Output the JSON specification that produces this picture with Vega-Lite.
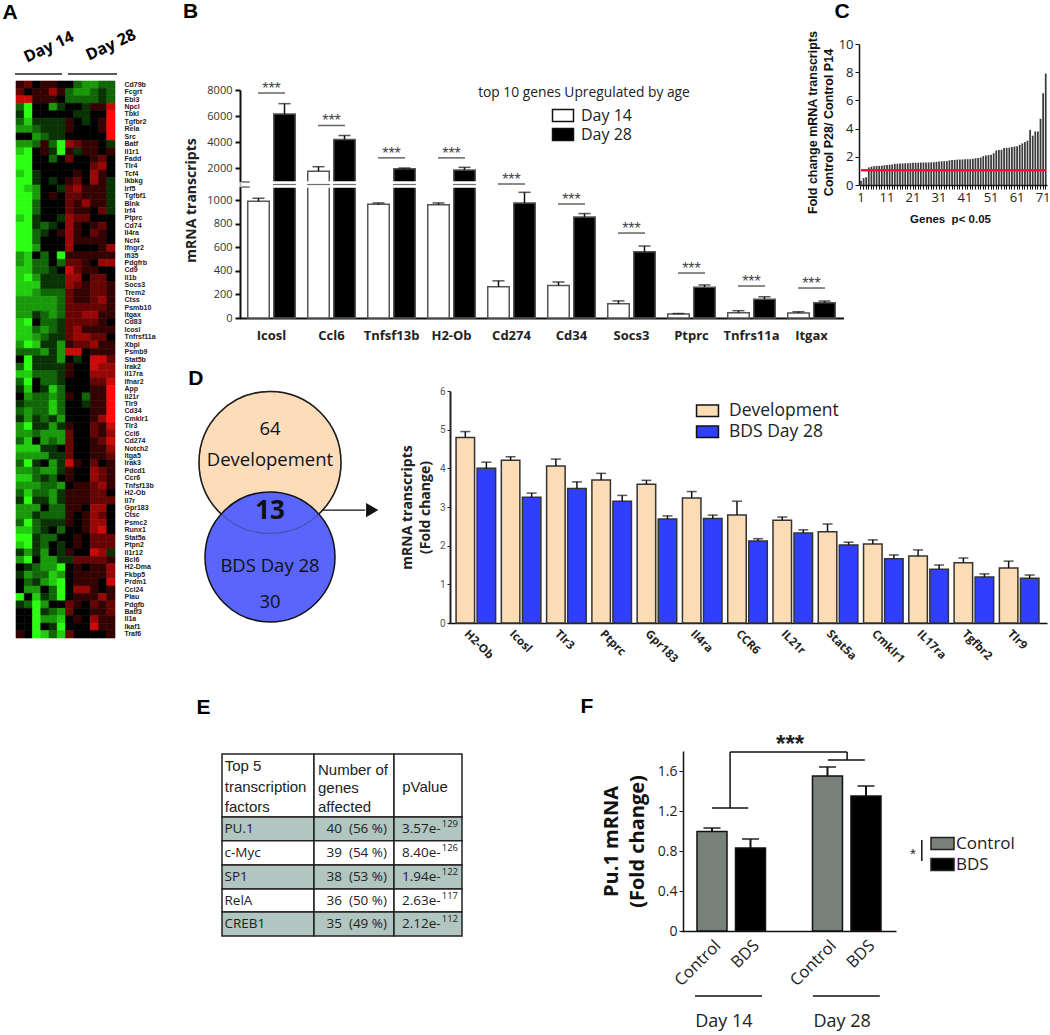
{"$schema":"https://vega.github.io/schema/vega-lite/v6.json","width":1050,"height":1035,"padding":0,"autosize":{"type":"none"},"background":"white","config":{"view":{"stroke":null},"axis":{"grid":false},"font":"Open Sans","text":{"font":"Open Sans"}},
"datasets":{
"heat":[
{"g":"Cd79b","c":1,"v":1},{"g":"Cd79b","c":2,"v":2},{"g":"Cd79b","c":3,"v":0},{"g":"Cd79b","c":4,"v":1},{"g":"Cd79b","c":5,"v":1},{"g":"Cd79b","c":6,"v":0},{"g":"Cd79b","c":7,"v":0},{"g":"Cd79b","c":8,"v":-2},{"g":"Cd79b","c":9,"v":-3},{"g":"Cd79b","c":10,"v":-3},{"g":"Cd79b","c":11,"v":-2},{"g":"Cd79b","c":12,"v":-2},
{"g":"Fcgrt","c":1,"v":2},{"g":"Fcgrt","c":2,"v":0},{"g":"Fcgrt","c":3,"v":1},{"g":"Fcgrt","c":4,"v":1},{"g":"Fcgrt","c":5,"v":3},{"g":"Fcgrt","c":6,"v":1},{"g":"Fcgrt","c":7,"v":-2},{"g":"Fcgrt","c":8,"v":-3},{"g":"Fcgrt","c":9,"v":-3},{"g":"Fcgrt","c":10,"v":-2},{"g":"Fcgrt","c":11,"v":-1},{"g":"Fcgrt","c":12,"v":-2},
{"g":"Ebi3","c":1,"v":4},{"g":"Ebi3","c":2,"v":4},{"g":"Ebi3","c":3,"v":1},{"g":"Ebi3","c":4,"v":1},{"g":"Ebi3","c":5,"v":1},{"g":"Ebi3","c":6,"v":0},{"g":"Ebi3","c":7,"v":-2},{"g":"Ebi3","c":8,"v":-2},{"g":"Ebi3","c":9,"v":-2},{"g":"Ebi3","c":10,"v":-2},{"g":"Ebi3","c":11,"v":-1},{"g":"Ebi3","c":12,"v":-2},
{"g":"Npcl","c":1,"v":-2},{"g":"Npcl","c":2,"v":-5},{"g":"Npcl","c":3,"v":0},{"g":"Npcl","c":4,"v":0},{"g":"Npcl","c":5,"v":-3},{"g":"Npcl","c":6,"v":-1},{"g":"Npcl","c":7,"v":0},{"g":"Npcl","c":8,"v":0},{"g":"Npcl","c":9,"v":-1},{"g":"Npcl","c":10,"v":1},{"g":"Npcl","c":11,"v":1},{"g":"Npcl","c":12,"v":4},
{"g":"Tbkl","c":1,"v":-1},{"g":"Tbkl","c":2,"v":-5},{"g":"Tbkl","c":3,"v":0},{"g":"Tbkl","c":4,"v":0},{"g":"Tbkl","c":5,"v":0},{"g":"Tbkl","c":6,"v":0},{"g":"Tbkl","c":7,"v":0},{"g":"Tbkl","c":8,"v":-1},{"g":"Tbkl","c":9,"v":-1},{"g":"Tbkl","c":10,"v":0},{"g":"Tbkl","c":11,"v":0},{"g":"Tbkl","c":12,"v":5},
{"g":"Tgfbr2","c":1,"v":-2},{"g":"Tgfbr2","c":2,"v":-4},{"g":"Tgfbr2","c":3,"v":-1},{"g":"Tgfbr2","c":4,"v":-1},{"g":"Tgfbr2","c":5,"v":-1},{"g":"Tgfbr2","c":6,"v":-1},{"g":"Tgfbr2","c":7,"v":1},{"g":"Tgfbr2","c":8,"v":0},{"g":"Tgfbr2","c":9,"v":-1},{"g":"Tgfbr2","c":10,"v":0},{"g":"Tgfbr2","c":11,"v":1},{"g":"Tgfbr2","c":12,"v":5},
{"g":"Rela","c":1,"v":-3},{"g":"Rela","c":2,"v":-3},{"g":"Rela","c":3,"v":-2},{"g":"Rela","c":4,"v":-1},{"g":"Rela","c":5,"v":-1},{"g":"Rela","c":6,"v":-1},{"g":"Rela","c":7,"v":1},{"g":"Rela","c":8,"v":0},{"g":"Rela","c":9,"v":0},{"g":"Rela","c":10,"v":0},{"g":"Rela","c":11,"v":1},{"g":"Rela","c":12,"v":5},
{"g":"Src","c":1,"v":0},{"g":"Src","c":2,"v":0},{"g":"Src","c":3,"v":-3},{"g":"Src","c":4,"v":-2},{"g":"Src","c":5,"v":-1},{"g":"Src","c":6,"v":-1},{"g":"Src","c":7,"v":0},{"g":"Src","c":8,"v":0},{"g":"Src","c":9,"v":0},{"g":"Src","c":10,"v":0},{"g":"Src","c":11,"v":0},{"g":"Src","c":12,"v":5},
{"g":"Batf","c":1,"v":-3},{"g":"Batf","c":2,"v":-3},{"g":"Batf","c":3,"v":-2},{"g":"Batf","c":4,"v":1},{"g":"Batf","c":5,"v":-2},{"g":"Batf","c":6,"v":-5},{"g":"Batf","c":7,"v":3},{"g":"Batf","c":8,"v":2},{"g":"Batf","c":9,"v":1},{"g":"Batf","c":10,"v":1},{"g":"Batf","c":11,"v":0},{"g":"Batf","c":12,"v":-1},
{"g":"Il1r1","c":1,"v":-4},{"g":"Il1r1","c":2,"v":-5},{"g":"Il1r1","c":3,"v":0},{"g":"Il1r1","c":4,"v":1},{"g":"Il1r1","c":5,"v":-1},{"g":"Il1r1","c":6,"v":-5},{"g":"Il1r1","c":7,"v":1},{"g":"Il1r1","c":8,"v":-1},{"g":"Il1r1","c":9,"v":1},{"g":"Il1r1","c":10,"v":1},{"g":"Il1r1","c":11,"v":0},{"g":"Il1r1","c":12,"v":1},
{"g":"Fadd","c":1,"v":-5},{"g":"Fadd","c":2,"v":-5},{"g":"Fadd","c":3,"v":0},{"g":"Fadd","c":4,"v":0},{"g":"Fadd","c":5,"v":-2},{"g":"Fadd","c":6,"v":0},{"g":"Fadd","c":7,"v":2},{"g":"Fadd","c":8,"v":0},{"g":"Fadd","c":9,"v":0},{"g":"Fadd","c":10,"v":1},{"g":"Fadd","c":11,"v":2},{"g":"Fadd","c":12,"v":0},
{"g":"Tlr4","c":1,"v":-5},{"g":"Tlr4","c":2,"v":-5},{"g":"Tlr4","c":3,"v":0},{"g":"Tlr4","c":4,"v":0},{"g":"Tlr4","c":5,"v":0},{"g":"Tlr4","c":6,"v":0},{"g":"Tlr4","c":7,"v":0},{"g":"Tlr4","c":8,"v":0},{"g":"Tlr4","c":9,"v":0},{"g":"Tlr4","c":10,"v":2},{"g":"Tlr4","c":11,"v":3},{"g":"Tlr4","c":12,"v":0},
{"g":"Tcf4","c":1,"v":-4},{"g":"Tcf4","c":2,"v":-5},{"g":"Tcf4","c":3,"v":-1},{"g":"Tcf4","c":4,"v":0},{"g":"Tcf4","c":5,"v":0},{"g":"Tcf4","c":6,"v":0},{"g":"Tcf4","c":7,"v":0},{"g":"Tcf4","c":8,"v":1},{"g":"Tcf4","c":9,"v":0},{"g":"Tcf4","c":10,"v":3},{"g":"Tcf4","c":11,"v":1},{"g":"Tcf4","c":12,"v":0},
{"g":"Ikbkg","c":1,"v":-5},{"g":"Ikbkg","c":2,"v":-5},{"g":"Ikbkg","c":3,"v":-1},{"g":"Ikbkg","c":4,"v":0},{"g":"Ikbkg","c":5,"v":-1},{"g":"Ikbkg","c":6,"v":0},{"g":"Ikbkg","c":7,"v":1},{"g":"Ikbkg","c":8,"v":2},{"g":"Ikbkg","c":9,"v":0},{"g":"Ikbkg","c":10,"v":3},{"g":"Ikbkg","c":11,"v":1},{"g":"Ikbkg","c":12,"v":-1},
{"g":"Irf5","c":1,"v":-5},{"g":"Irf5","c":2,"v":-4},{"g":"Irf5","c":3,"v":-3},{"g":"Irf5","c":4,"v":0},{"g":"Irf5","c":5,"v":0},{"g":"Irf5","c":6,"v":-1},{"g":"Irf5","c":7,"v":2},{"g":"Irf5","c":8,"v":3},{"g":"Irf5","c":9,"v":1},{"g":"Irf5","c":10,"v":1},{"g":"Irf5","c":11,"v":1},{"g":"Irf5","c":12,"v":-1},
{"g":"Tgfbf1","c":1,"v":-5},{"g":"Tgfbf1","c":2,"v":-5},{"g":"Tgfbf1","c":3,"v":-3},{"g":"Tgfbf1","c":4,"v":0},{"g":"Tgfbf1","c":5,"v":1},{"g":"Tgfbf1","c":6,"v":0},{"g":"Tgfbf1","c":7,"v":2},{"g":"Tgfbf1","c":8,"v":2},{"g":"Tgfbf1","c":9,"v":1},{"g":"Tgfbf1","c":10,"v":1},{"g":"Tgfbf1","c":11,"v":1},{"g":"Tgfbf1","c":12,"v":-1},
{"g":"Blnk","c":1,"v":-5},{"g":"Blnk","c":2,"v":-5},{"g":"Blnk","c":3,"v":-2},{"g":"Blnk","c":4,"v":0},{"g":"Blnk","c":5,"v":0},{"g":"Blnk","c":6,"v":0},{"g":"Blnk","c":7,"v":2},{"g":"Blnk","c":8,"v":1},{"g":"Blnk","c":9,"v":3},{"g":"Blnk","c":10,"v":1},{"g":"Blnk","c":11,"v":1},{"g":"Blnk","c":12,"v":-1},
{"g":"Irf4","c":1,"v":-5},{"g":"Irf4","c":2,"v":-5},{"g":"Irf4","c":3,"v":-2},{"g":"Irf4","c":4,"v":0},{"g":"Irf4","c":5,"v":0},{"g":"Irf4","c":6,"v":0},{"g":"Irf4","c":7,"v":2},{"g":"Irf4","c":8,"v":1},{"g":"Irf4","c":9,"v":1},{"g":"Irf4","c":10,"v":0},{"g":"Irf4","c":11,"v":2},{"g":"Irf4","c":12,"v":-1},
{"g":"Ptprc","c":1,"v":-4},{"g":"Ptprc","c":2,"v":-5},{"g":"Ptprc","c":3,"v":-1},{"g":"Ptprc","c":4,"v":0},{"g":"Ptprc","c":5,"v":0},{"g":"Ptprc","c":6,"v":-1},{"g":"Ptprc","c":7,"v":3},{"g":"Ptprc","c":8,"v":2},{"g":"Ptprc","c":9,"v":2},{"g":"Ptprc","c":10,"v":0},{"g":"Ptprc","c":11,"v":0},{"g":"Ptprc","c":12,"v":0},
{"g":"Cd74","c":1,"v":-5},{"g":"Cd74","c":2,"v":-5},{"g":"Cd74","c":3,"v":-1},{"g":"Cd74","c":4,"v":-2},{"g":"Cd74","c":5,"v":-1},{"g":"Cd74","c":6,"v":0},{"g":"Cd74","c":7,"v":3},{"g":"Cd74","c":8,"v":1},{"g":"Cd74","c":9,"v":0},{"g":"Cd74","c":10,"v":1},{"g":"Cd74","c":11,"v":2},{"g":"Cd74","c":12,"v":0},
{"g":"Il4ra","c":1,"v":-5},{"g":"Il4ra","c":2,"v":-5},{"g":"Il4ra","c":3,"v":-2},{"g":"Il4ra","c":4,"v":-1},{"g":"Il4ra","c":5,"v":0},{"g":"Il4ra","c":6,"v":1},{"g":"Il4ra","c":7,"v":3},{"g":"Il4ra","c":8,"v":1},{"g":"Il4ra","c":9,"v":0},{"g":"Il4ra","c":10,"v":2},{"g":"Il4ra","c":11,"v":1},{"g":"Il4ra","c":12,"v":0},
{"g":"Ncf4","c":1,"v":-5},{"g":"Ncf4","c":2,"v":-5},{"g":"Ncf4","c":3,"v":-2},{"g":"Ncf4","c":4,"v":0},{"g":"Ncf4","c":5,"v":0},{"g":"Ncf4","c":6,"v":0},{"g":"Ncf4","c":7,"v":3},{"g":"Ncf4","c":8,"v":1},{"g":"Ncf4","c":9,"v":1},{"g":"Ncf4","c":10,"v":1},{"g":"Ncf4","c":11,"v":1},{"g":"Ncf4","c":12,"v":0},
{"g":"Ifngr2","c":1,"v":-5},{"g":"Ifngr2","c":2,"v":-5},{"g":"Ifngr2","c":3,"v":-3},{"g":"Ifngr2","c":4,"v":0},{"g":"Ifngr2","c":5,"v":0},{"g":"Ifngr2","c":6,"v":0},{"g":"Ifngr2","c":7,"v":3},{"g":"Ifngr2","c":8,"v":0},{"g":"Ifngr2","c":9,"v":0},{"g":"Ifngr2","c":10,"v":0},{"g":"Ifngr2","c":11,"v":1},{"g":"Ifngr2","c":12,"v":3},
{"g":"Ifi35","c":1,"v":-3},{"g":"Ifi35","c":2,"v":-4},{"g":"Ifi35","c":3,"v":0},{"g":"Ifi35","c":4,"v":-2},{"g":"Ifi35","c":5,"v":0},{"g":"Ifi35","c":6,"v":-5},{"g":"Ifi35","c":7,"v":1},{"g":"Ifi35","c":8,"v":1},{"g":"Ifi35","c":9,"v":1},{"g":"Ifi35","c":10,"v":1},{"g":"Ifi35","c":11,"v":1},{"g":"Ifi35","c":12,"v":1},
{"g":"Pdgfrb","c":1,"v":-3},{"g":"Pdgfrb","c":2,"v":-4},{"g":"Pdgfrb","c":3,"v":-2},{"g":"Pdgfrb","c":4,"v":-2},{"g":"Pdgfrb","c":5,"v":0},{"g":"Pdgfrb","c":6,"v":-2},{"g":"Pdgfrb","c":7,"v":2},{"g":"Pdgfrb","c":8,"v":2},{"g":"Pdgfrb","c":9,"v":1},{"g":"Pdgfrb","c":10,"v":0},{"g":"Pdgfrb","c":11,"v":3},{"g":"Pdgfrb","c":12,"v":3},
{"g":"Cd9","c":1,"v":-4},{"g":"Cd9","c":2,"v":-4},{"g":"Cd9","c":3,"v":-2},{"g":"Cd9","c":4,"v":-2},{"g":"Cd9","c":5,"v":-1},{"g":"Cd9","c":6,"v":0},{"g":"Cd9","c":7,"v":4},{"g":"Cd9","c":8,"v":2},{"g":"Cd9","c":9,"v":1},{"g":"Cd9","c":10,"v":1},{"g":"Cd9","c":11,"v":0},{"g":"Cd9","c":12,"v":0},
{"g":"Il1b","c":1,"v":-4},{"g":"Il1b","c":2,"v":-5},{"g":"Il1b","c":3,"v":-3},{"g":"Il1b","c":4,"v":-1},{"g":"Il1b","c":5,"v":-1},{"g":"Il1b","c":6,"v":-1},{"g":"Il1b","c":7,"v":3},{"g":"Il1b","c":8,"v":3},{"g":"Il1b","c":9,"v":0},{"g":"Il1b","c":10,"v":2},{"g":"Il1b","c":11,"v":2},{"g":"Il1b","c":12,"v":0},
{"g":"Socs3","c":1,"v":-4},{"g":"Socs3","c":2,"v":-4},{"g":"Socs3","c":3,"v":-4},{"g":"Socs3","c":4,"v":-1},{"g":"Socs3","c":5,"v":-1},{"g":"Socs3","c":6,"v":-1},{"g":"Socs3","c":7,"v":3},{"g":"Socs3","c":8,"v":2},{"g":"Socs3","c":9,"v":1},{"g":"Socs3","c":10,"v":2},{"g":"Socs3","c":11,"v":2},{"g":"Socs3","c":12,"v":1},
{"g":"Trem2","c":1,"v":-4},{"g":"Trem2","c":2,"v":-4},{"g":"Trem2","c":3,"v":-3},{"g":"Trem2","c":4,"v":-2},{"g":"Trem2","c":5,"v":-2},{"g":"Trem2","c":6,"v":-2},{"g":"Trem2","c":7,"v":2},{"g":"Trem2","c":8,"v":1},{"g":"Trem2","c":9,"v":1},{"g":"Trem2","c":10,"v":2},{"g":"Trem2","c":11,"v":2},{"g":"Trem2","c":12,"v":1},
{"g":"Ctss","c":1,"v":-3},{"g":"Ctss","c":2,"v":-3},{"g":"Ctss","c":3,"v":-3},{"g":"Ctss","c":4,"v":-3},{"g":"Ctss","c":5,"v":-3},{"g":"Ctss","c":6,"v":-2},{"g":"Ctss","c":7,"v":2},{"g":"Ctss","c":8,"v":1},{"g":"Ctss","c":9,"v":1},{"g":"Ctss","c":10,"v":2},{"g":"Ctss","c":11,"v":3},{"g":"Ctss","c":12,"v":1},
{"g":"Psmb10","c":1,"v":-3},{"g":"Psmb10","c":2,"v":-3},{"g":"Psmb10","c":3,"v":-3},{"g":"Psmb10","c":4,"v":-3},{"g":"Psmb10","c":5,"v":-3},{"g":"Psmb10","c":6,"v":-2},{"g":"Psmb10","c":7,"v":2},{"g":"Psmb10","c":8,"v":2},{"g":"Psmb10","c":9,"v":2},{"g":"Psmb10","c":10,"v":2},{"g":"Psmb10","c":11,"v":2},{"g":"Psmb10","c":12,"v":1},
{"g":"Itgax","c":1,"v":-3},{"g":"Itgax","c":2,"v":-3},{"g":"Itgax","c":3,"v":-1},{"g":"Itgax","c":4,"v":-2},{"g":"Itgax","c":5,"v":-3},{"g":"Itgax","c":6,"v":-2},{"g":"Itgax","c":7,"v":2},{"g":"Itgax","c":8,"v":2},{"g":"Itgax","c":9,"v":3},{"g":"Itgax","c":10,"v":3},{"g":"Itgax","c":11,"v":1},{"g":"Itgax","c":12,"v":1},
{"g":"Cd83","c":1,"v":-4},{"g":"Cd83","c":2,"v":-5},{"g":"Cd83","c":3,"v":0},{"g":"Cd83","c":4,"v":-2},{"g":"Cd83","c":5,"v":-2},{"g":"Cd83","c":6,"v":-1},{"g":"Cd83","c":7,"v":2},{"g":"Cd83","c":8,"v":2},{"g":"Cd83","c":9,"v":2},{"g":"Cd83","c":10,"v":2},{"g":"Cd83","c":11,"v":1},{"g":"Cd83","c":12,"v":0},
{"g":"Icosl","c":1,"v":-4},{"g":"Icosl","c":2,"v":-4},{"g":"Icosl","c":3,"v":-2},{"g":"Icosl","c":4,"v":-3},{"g":"Icosl","c":5,"v":-2},{"g":"Icosl","c":6,"v":-1},{"g":"Icosl","c":7,"v":2},{"g":"Icosl","c":8,"v":3},{"g":"Icosl","c":9,"v":1},{"g":"Icosl","c":10,"v":1},{"g":"Icosl","c":11,"v":1},{"g":"Icosl","c":12,"v":1},
{"g":"Tnfrsf11a","c":1,"v":-4},{"g":"Tnfrsf11a","c":2,"v":-4},{"g":"Tnfrsf11a","c":3,"v":-3},{"g":"Tnfrsf11a","c":4,"v":-2},{"g":"Tnfrsf11a","c":5,"v":-1},{"g":"Tnfrsf11a","c":6,"v":-1},{"g":"Tnfrsf11a","c":7,"v":2},{"g":"Tnfrsf11a","c":8,"v":3},{"g":"Tnfrsf11a","c":9,"v":3},{"g":"Tnfrsf11a","c":10,"v":2},{"g":"Tnfrsf11a","c":11,"v":2},{"g":"Tnfrsf11a","c":12,"v":0},
{"g":"Xbpl","c":1,"v":-3},{"g":"Xbpl","c":2,"v":-5},{"g":"Xbpl","c":3,"v":-4},{"g":"Xbpl","c":4,"v":-1},{"g":"Xbpl","c":5,"v":-1},{"g":"Xbpl","c":6,"v":-3},{"g":"Xbpl","c":7,"v":1},{"g":"Xbpl","c":8,"v":2},{"g":"Xbpl","c":9,"v":2},{"g":"Xbpl","c":10,"v":3},{"g":"Xbpl","c":11,"v":1},{"g":"Xbpl","c":12,"v":1},
{"g":"Psmb9","c":1,"v":-2},{"g":"Psmb9","c":2,"v":-2},{"g":"Psmb9","c":3,"v":-2},{"g":"Psmb9","c":4,"v":-3},{"g":"Psmb9","c":5,"v":-1},{"g":"Psmb9","c":6,"v":-3},{"g":"Psmb9","c":7,"v":4},{"g":"Psmb9","c":8,"v":4},{"g":"Psmb9","c":9,"v":0},{"g":"Psmb9","c":10,"v":1},{"g":"Psmb9","c":11,"v":1},{"g":"Psmb9","c":12,"v":1},
{"g":"Stat5b","c":1,"v":0},{"g":"Stat5b","c":2,"v":-5},{"g":"Stat5b","c":3,"v":-1},{"g":"Stat5b","c":4,"v":-1},{"g":"Stat5b","c":5,"v":-1},{"g":"Stat5b","c":6,"v":-3},{"g":"Stat5b","c":7,"v":0},{"g":"Stat5b","c":8,"v":-1},{"g":"Stat5b","c":9,"v":0},{"g":"Stat5b","c":10,"v":4},{"g":"Stat5b","c":11,"v":4},{"g":"Stat5b","c":12,"v":2},
{"g":"Irak2","c":1,"v":-2},{"g":"Irak2","c":2,"v":-5},{"g":"Irak2","c":3,"v":-1},{"g":"Irak2","c":4,"v":-1},{"g":"Irak2","c":5,"v":-1},{"g":"Irak2","c":6,"v":-1},{"g":"Irak2","c":7,"v":1},{"g":"Irak2","c":8,"v":0},{"g":"Irak2","c":9,"v":0},{"g":"Irak2","c":10,"v":4},{"g":"Irak2","c":11,"v":3},{"g":"Irak2","c":12,"v":3},
{"g":"Il17ra","c":1,"v":-4},{"g":"Il17ra","c":2,"v":-4},{"g":"Il17ra","c":3,"v":-2},{"g":"Il17ra","c":4,"v":-2},{"g":"Il17ra","c":5,"v":-2},{"g":"Il17ra","c":6,"v":-1},{"g":"Il17ra","c":7,"v":1},{"g":"Il17ra","c":8,"v":0},{"g":"Il17ra","c":9,"v":0},{"g":"Il17ra","c":10,"v":3},{"g":"Il17ra","c":11,"v":3},{"g":"Il17ra","c":12,"v":3},
{"g":"Ifnar2","c":1,"v":-2},{"g":"Ifnar2","c":2,"v":-5},{"g":"Ifnar2","c":3,"v":0},{"g":"Ifnar2","c":4,"v":-2},{"g":"Ifnar2","c":5,"v":-2},{"g":"Ifnar2","c":6,"v":-1},{"g":"Ifnar2","c":7,"v":0},{"g":"Ifnar2","c":8,"v":0},{"g":"Ifnar2","c":9,"v":0},{"g":"Ifnar2","c":10,"v":2},{"g":"Ifnar2","c":11,"v":2},{"g":"Ifnar2","c":12,"v":4},
{"g":"App","c":1,"v":-1},{"g":"App","c":2,"v":-4},{"g":"App","c":3,"v":0},{"g":"App","c":4,"v":-1},{"g":"App","c":5,"v":-4},{"g":"App","c":6,"v":-2},{"g":"App","c":7,"v":0},{"g":"App","c":8,"v":0},{"g":"App","c":9,"v":0},{"g":"App","c":10,"v":1},{"g":"App","c":11,"v":1},{"g":"App","c":12,"v":5},
{"g":"Il21r","c":1,"v":0},{"g":"Il21r","c":2,"v":-3},{"g":"Il21r","c":3,"v":-2},{"g":"Il21r","c":4,"v":-2},{"g":"Il21r","c":5,"v":-3},{"g":"Il21r","c":6,"v":-2},{"g":"Il21r","c":7,"v":1},{"g":"Il21r","c":8,"v":0},{"g":"Il21r","c":9,"v":-2},{"g":"Il21r","c":10,"v":1},{"g":"Il21r","c":11,"v":1},{"g":"Il21r","c":12,"v":5},
{"g":"Tlr9","c":1,"v":-1},{"g":"Tlr9","c":2,"v":-2},{"g":"Tlr9","c":3,"v":-2},{"g":"Tlr9","c":4,"v":-2},{"g":"Tlr9","c":5,"v":-4},{"g":"Tlr9","c":6,"v":-2},{"g":"Tlr9","c":7,"v":0},{"g":"Tlr9","c":8,"v":0},{"g":"Tlr9","c":9,"v":-1},{"g":"Tlr9","c":10,"v":1},{"g":"Tlr9","c":11,"v":1},{"g":"Tlr9","c":12,"v":5},
{"g":"Cd34","c":1,"v":-2},{"g":"Cd34","c":2,"v":-3},{"g":"Cd34","c":3,"v":-2},{"g":"Cd34","c":4,"v":-2},{"g":"Cd34","c":5,"v":-4},{"g":"Cd34","c":6,"v":-2},{"g":"Cd34","c":7,"v":0},{"g":"Cd34","c":8,"v":0},{"g":"Cd34","c":9,"v":0},{"g":"Cd34","c":10,"v":1},{"g":"Cd34","c":11,"v":1},{"g":"Cd34","c":12,"v":5},
{"g":"Cmklr1","c":1,"v":-1},{"g":"Cmklr1","c":2,"v":-3},{"g":"Cmklr1","c":3,"v":-1},{"g":"Cmklr1","c":4,"v":-2},{"g":"Cmklr1","c":5,"v":-1},{"g":"Cmklr1","c":6,"v":-3},{"g":"Cmklr1","c":7,"v":0},{"g":"Cmklr1","c":8,"v":0},{"g":"Cmklr1","c":9,"v":0},{"g":"Cmklr1","c":10,"v":1},{"g":"Cmklr1","c":11,"v":3},{"g":"Cmklr1","c":12,"v":5},
{"g":"Tlr3","c":1,"v":-3},{"g":"Tlr3","c":2,"v":-5},{"g":"Tlr3","c":3,"v":-1},{"g":"Tlr3","c":4,"v":-1},{"g":"Tlr3","c":5,"v":-3},{"g":"Tlr3","c":6,"v":-1},{"g":"Tlr3","c":7,"v":1},{"g":"Tlr3","c":8,"v":0},{"g":"Tlr3","c":9,"v":0},{"g":"Tlr3","c":10,"v":2},{"g":"Tlr3","c":11,"v":1},{"g":"Tlr3","c":12,"v":4},
{"g":"Ccl6","c":1,"v":-3},{"g":"Ccl6","c":2,"v":-3},{"g":"Ccl6","c":3,"v":-2},{"g":"Ccl6","c":4,"v":-3},{"g":"Ccl6","c":5,"v":-3},{"g":"Ccl6","c":6,"v":-3},{"g":"Ccl6","c":7,"v":2},{"g":"Ccl6","c":8,"v":0},{"g":"Ccl6","c":9,"v":0},{"g":"Ccl6","c":10,"v":2},{"g":"Ccl6","c":11,"v":1},{"g":"Ccl6","c":12,"v":3},
{"g":"Cd274","c":1,"v":-2},{"g":"Cd274","c":2,"v":-4},{"g":"Cd274","c":3,"v":0},{"g":"Cd274","c":4,"v":-3},{"g":"Cd274","c":5,"v":-2},{"g":"Cd274","c":6,"v":-3},{"g":"Cd274","c":7,"v":2},{"g":"Cd274","c":8,"v":0},{"g":"Cd274","c":9,"v":0},{"g":"Cd274","c":10,"v":1},{"g":"Cd274","c":11,"v":2},{"g":"Cd274","c":12,"v":4},
{"g":"Notch2","c":1,"v":-4},{"g":"Notch2","c":2,"v":-4},{"g":"Notch2","c":3,"v":-4},{"g":"Notch2","c":4,"v":-1},{"g":"Notch2","c":5,"v":-1},{"g":"Notch2","c":6,"v":0},{"g":"Notch2","c":7,"v":2},{"g":"Notch2","c":8,"v":0},{"g":"Notch2","c":9,"v":0},{"g":"Notch2","c":10,"v":1},{"g":"Notch2","c":11,"v":1},{"g":"Notch2","c":12,"v":3},
{"g":"Itga5","c":1,"v":-3},{"g":"Itga5","c":2,"v":-3},{"g":"Itga5","c":3,"v":-3},{"g":"Itga5","c":4,"v":-3},{"g":"Itga5","c":5,"v":-1},{"g":"Itga5","c":6,"v":-1},{"g":"Itga5","c":7,"v":2},{"g":"Itga5","c":8,"v":0},{"g":"Itga5","c":9,"v":0},{"g":"Itga5","c":10,"v":1},{"g":"Itga5","c":11,"v":1},{"g":"Itga5","c":12,"v":2},
{"g":"Irak3","c":1,"v":-2},{"g":"Irak3","c":2,"v":-5},{"g":"Irak3","c":3,"v":-1},{"g":"Irak3","c":4,"v":0},{"g":"Irak3","c":5,"v":-3},{"g":"Irak3","c":6,"v":-1},{"g":"Irak3","c":7,"v":4},{"g":"Irak3","c":8,"v":1},{"g":"Irak3","c":9,"v":0},{"g":"Irak3","c":10,"v":2},{"g":"Irak3","c":11,"v":0},{"g":"Irak3","c":12,"v":1},
{"g":"Pdcd1","c":1,"v":-3},{"g":"Pdcd1","c":2,"v":-3},{"g":"Pdcd1","c":3,"v":-2},{"g":"Pdcd1","c":4,"v":-3},{"g":"Pdcd1","c":5,"v":-3},{"g":"Pdcd1","c":6,"v":-1},{"g":"Pdcd1","c":7,"v":1},{"g":"Pdcd1","c":8,"v":0},{"g":"Pdcd1","c":9,"v":0},{"g":"Pdcd1","c":10,"v":3},{"g":"Pdcd1","c":11,"v":2},{"g":"Pdcd1","c":12,"v":1},
{"g":"Ccr6","c":1,"v":-4},{"g":"Ccr6","c":2,"v":-4},{"g":"Ccr6","c":3,"v":-2},{"g":"Ccr6","c":4,"v":-1},{"g":"Ccr6","c":5,"v":-2},{"g":"Ccr6","c":6,"v":0},{"g":"Ccr6","c":7,"v":1},{"g":"Ccr6","c":8,"v":0},{"g":"Ccr6","c":9,"v":0},{"g":"Ccr6","c":10,"v":3},{"g":"Ccr6","c":11,"v":2},{"g":"Ccr6","c":12,"v":1},
{"g":"Tnfsf13b","c":1,"v":-3},{"g":"Tnfsf13b","c":2,"v":-3},{"g":"Tnfsf13b","c":3,"v":-3},{"g":"Tnfsf13b","c":4,"v":-2},{"g":"Tnfsf13b","c":5,"v":-2},{"g":"Tnfsf13b","c":6,"v":-3},{"g":"Tnfsf13b","c":7,"v":0},{"g":"Tnfsf13b","c":8,"v":1},{"g":"Tnfsf13b","c":9,"v":1},{"g":"Tnfsf13b","c":10,"v":2},{"g":"Tnfsf13b","c":11,"v":3},{"g":"Tnfsf13b","c":12,"v":1},
{"g":"H2-Ob","c":1,"v":-2},{"g":"H2-Ob","c":2,"v":-4},{"g":"H2-Ob","c":3,"v":-2},{"g":"H2-Ob","c":4,"v":-2},{"g":"H2-Ob","c":5,"v":-3},{"g":"H2-Ob","c":6,"v":-1},{"g":"H2-Ob","c":7,"v":1},{"g":"H2-Ob","c":8,"v":1},{"g":"H2-Ob","c":9,"v":1},{"g":"H2-Ob","c":10,"v":2},{"g":"H2-Ob","c":11,"v":2},{"g":"H2-Ob","c":12,"v":0},
{"g":"Il7r","c":1,"v":-1},{"g":"Il7r","c":2,"v":-5},{"g":"Il7r","c":3,"v":-1},{"g":"Il7r","c":4,"v":-1},{"g":"Il7r","c":5,"v":-3},{"g":"Il7r","c":6,"v":-1},{"g":"Il7r","c":7,"v":1},{"g":"Il7r","c":8,"v":1},{"g":"Il7r","c":9,"v":1},{"g":"Il7r","c":10,"v":2},{"g":"Il7r","c":11,"v":2},{"g":"Il7r","c":12,"v":2},
{"g":"Gpr183","c":1,"v":-3},{"g":"Gpr183","c":2,"v":-3},{"g":"Gpr183","c":3,"v":-3},{"g":"Gpr183","c":4,"v":0},{"g":"Gpr183","c":5,"v":-2},{"g":"Gpr183","c":6,"v":-2},{"g":"Gpr183","c":7,"v":1},{"g":"Gpr183","c":8,"v":1},{"g":"Gpr183","c":9,"v":0},{"g":"Gpr183","c":10,"v":3},{"g":"Gpr183","c":11,"v":3},{"g":"Gpr183","c":12,"v":0},
{"g":"Ctsc","c":1,"v":-3},{"g":"Ctsc","c":2,"v":-3},{"g":"Ctsc","c":3,"v":-1},{"g":"Ctsc","c":4,"v":-2},{"g":"Ctsc","c":5,"v":-2},{"g":"Ctsc","c":6,"v":-2},{"g":"Ctsc","c":7,"v":1},{"g":"Ctsc","c":8,"v":0},{"g":"Ctsc","c":9,"v":1},{"g":"Ctsc","c":10,"v":3},{"g":"Ctsc","c":11,"v":2},{"g":"Ctsc","c":12,"v":0},
{"g":"Psmc2","c":1,"v":-2},{"g":"Psmc2","c":2,"v":-5},{"g":"Psmc2","c":3,"v":-2},{"g":"Psmc2","c":4,"v":-1},{"g":"Psmc2","c":5,"v":-1},{"g":"Psmc2","c":6,"v":-1},{"g":"Psmc2","c":7,"v":1},{"g":"Psmc2","c":8,"v":0},{"g":"Psmc2","c":9,"v":1},{"g":"Psmc2","c":10,"v":3},{"g":"Psmc2","c":11,"v":3},{"g":"Psmc2","c":12,"v":0},
{"g":"Runx1","c":1,"v":-4},{"g":"Runx1","c":2,"v":-4},{"g":"Runx1","c":3,"v":-2},{"g":"Runx1","c":4,"v":-1},{"g":"Runx1","c":5,"v":0},{"g":"Runx1","c":6,"v":-2},{"g":"Runx1","c":7,"v":0},{"g":"Runx1","c":8,"v":0},{"g":"Runx1","c":9,"v":1},{"g":"Runx1","c":10,"v":3},{"g":"Runx1","c":11,"v":4},{"g":"Runx1","c":12,"v":0},
{"g":"Stat5a","c":1,"v":-5},{"g":"Stat5a","c":2,"v":-5},{"g":"Stat5a","c":3,"v":-1},{"g":"Stat5a","c":4,"v":-2},{"g":"Stat5a","c":5,"v":-2},{"g":"Stat5a","c":6,"v":0},{"g":"Stat5a","c":7,"v":0},{"g":"Stat5a","c":8,"v":1},{"g":"Stat5a","c":9,"v":0},{"g":"Stat5a","c":10,"v":2},{"g":"Stat5a","c":11,"v":2},{"g":"Stat5a","c":12,"v":2},
{"g":"Ptpn2","c":1,"v":-4},{"g":"Ptpn2","c":2,"v":-5},{"g":"Ptpn2","c":3,"v":-1},{"g":"Ptpn2","c":4,"v":-2},{"g":"Ptpn2","c":5,"v":0},{"g":"Ptpn2","c":6,"v":-1},{"g":"Ptpn2","c":7,"v":0},{"g":"Ptpn2","c":8,"v":1},{"g":"Ptpn2","c":9,"v":0},{"g":"Ptpn2","c":10,"v":2},{"g":"Ptpn2","c":11,"v":2},{"g":"Ptpn2","c":12,"v":2},
{"g":"Il1r12","c":1,"v":-1},{"g":"Il1r12","c":2,"v":-3},{"g":"Il1r12","c":3,"v":-1},{"g":"Il1r12","c":4,"v":-3},{"g":"Il1r12","c":5,"v":0},{"g":"Il1r12","c":6,"v":-1},{"g":"Il1r12","c":7,"v":1},{"g":"Il1r12","c":8,"v":0},{"g":"Il1r12","c":9,"v":0},{"g":"Il1r12","c":10,"v":4},{"g":"Il1r12","c":11,"v":3},{"g":"Il1r12","c":12,"v":-1},
{"g":"Bcl6","c":1,"v":-3},{"g":"Bcl6","c":2,"v":-5},{"g":"Bcl6","c":3,"v":0},{"g":"Bcl6","c":4,"v":-3},{"g":"Bcl6","c":5,"v":-3},{"g":"Bcl6","c":6,"v":-1},{"g":"Bcl6","c":7,"v":-1},{"g":"Bcl6","c":8,"v":2},{"g":"Bcl6","c":9,"v":2},{"g":"Bcl6","c":10,"v":2},{"g":"Bcl6","c":11,"v":2},{"g":"Bcl6","c":12,"v":1},
{"g":"H2-Dma","c":1,"v":0},{"g":"H2-Dma","c":2,"v":-1},{"g":"H2-Dma","c":3,"v":-2},{"g":"H2-Dma","c":4,"v":-3},{"g":"H2-Dma","c":5,"v":-3},{"g":"H2-Dma","c":6,"v":-5},{"g":"H2-Dma","c":7,"v":0},{"g":"H2-Dma","c":8,"v":1},{"g":"H2-Dma","c":9,"v":0},{"g":"H2-Dma","c":10,"v":1},{"g":"H2-Dma","c":11,"v":1},{"g":"H2-Dma","c":12,"v":3},
{"g":"Fkbp5","c":1,"v":-1},{"g":"Fkbp5","c":2,"v":-3},{"g":"Fkbp5","c":3,"v":-2},{"g":"Fkbp5","c":4,"v":-2},{"g":"Fkbp5","c":5,"v":-4},{"g":"Fkbp5","c":6,"v":-3},{"g":"Fkbp5","c":7,"v":0},{"g":"Fkbp5","c":8,"v":1},{"g":"Fkbp5","c":9,"v":1},{"g":"Fkbp5","c":10,"v":1},{"g":"Fkbp5","c":11,"v":1},{"g":"Fkbp5","c":12,"v":3},
{"g":"Prdm1","c":1,"v":0},{"g":"Prdm1","c":2,"v":-2},{"g":"Prdm1","c":3,"v":-1},{"g":"Prdm1","c":4,"v":-3},{"g":"Prdm1","c":5,"v":-4},{"g":"Prdm1","c":6,"v":-5},{"g":"Prdm1","c":7,"v":0},{"g":"Prdm1","c":8,"v":1},{"g":"Prdm1","c":9,"v":1},{"g":"Prdm1","c":10,"v":1},{"g":"Prdm1","c":11,"v":0},{"g":"Prdm1","c":12,"v":4},
{"g":"Ccl24","c":1,"v":0},{"g":"Ccl24","c":2,"v":-3},{"g":"Ccl24","c":3,"v":-3},{"g":"Ccl24","c":4,"v":0},{"g":"Ccl24","c":5,"v":-2},{"g":"Ccl24","c":6,"v":-5},{"g":"Ccl24","c":7,"v":0},{"g":"Ccl24","c":8,"v":3},{"g":"Ccl24","c":9,"v":3},{"g":"Ccl24","c":10,"v":1},{"g":"Ccl24","c":11,"v":0},{"g":"Ccl24","c":12,"v":1},
{"g":"Plau","c":1,"v":-5},{"g":"Plau","c":2,"v":0},{"g":"Plau","c":3,"v":-4},{"g":"Plau","c":4,"v":-1},{"g":"Plau","c":5,"v":-2},{"g":"Plau","c":6,"v":-5},{"g":"Plau","c":7,"v":0},{"g":"Plau","c":8,"v":1},{"g":"Plau","c":9,"v":1},{"g":"Plau","c":10,"v":1},{"g":"Plau","c":11,"v":3},{"g":"Plau","c":12,"v":1},
{"g":"Pdgfb","c":1,"v":-1},{"g":"Pdgfb","c":2,"v":-2},{"g":"Pdgfb","c":3,"v":-5},{"g":"Pdgfb","c":4,"v":-3},{"g":"Pdgfb","c":5,"v":0},{"g":"Pdgfb","c":6,"v":0},{"g":"Pdgfb","c":7,"v":2},{"g":"Pdgfb","c":8,"v":1},{"g":"Pdgfb","c":9,"v":0},{"g":"Pdgfb","c":10,"v":2},{"g":"Pdgfb","c":11,"v":1},{"g":"Pdgfb","c":12,"v":2},
{"g":"Batf3","c":1,"v":0},{"g":"Batf3","c":2,"v":0},{"g":"Batf3","c":3,"v":-5},{"g":"Batf3","c":4,"v":-1},{"g":"Batf3","c":5,"v":-2},{"g":"Batf3","c":6,"v":-3},{"g":"Batf3","c":7,"v":2},{"g":"Batf3","c":8,"v":0},{"g":"Batf3","c":9,"v":0},{"g":"Batf3","c":10,"v":1},{"g":"Batf3","c":11,"v":1},{"g":"Batf3","c":12,"v":2},
{"g":"Il1a","c":1,"v":0},{"g":"Il1a","c":2,"v":0},{"g":"Il1a","c":3,"v":-5},{"g":"Il1a","c":4,"v":-3},{"g":"Il1a","c":5,"v":-3},{"g":"Il1a","c":6,"v":-4},{"g":"Il1a","c":7,"v":0},{"g":"Il1a","c":8,"v":1},{"g":"Il1a","c":9,"v":0},{"g":"Il1a","c":10,"v":3},{"g":"Il1a","c":11,"v":1},{"g":"Il1a","c":12,"v":1},
{"g":"Ikaf1","c":1,"v":0},{"g":"Ikaf1","c":2,"v":0},{"g":"Ikaf1","c":3,"v":-5},{"g":"Ikaf1","c":4,"v":0},{"g":"Ikaf1","c":5,"v":-1},{"g":"Ikaf1","c":6,"v":-5},{"g":"Ikaf1","c":7,"v":0},{"g":"Ikaf1","c":8,"v":0},{"g":"Ikaf1","c":9,"v":0},{"g":"Ikaf1","c":10,"v":4},{"g":"Ikaf1","c":11,"v":1},{"g":"Ikaf1","c":12,"v":1},
{"g":"Traf6","c":1,"v":1},{"g":"Traf6","c":2,"v":0},{"g":"Traf6","c":3,"v":-5},{"g":"Traf6","c":4,"v":-4},{"g":"Traf6","c":5,"v":-2},{"g":"Traf6","c":6,"v":-4},{"g":"Traf6","c":7,"v":2},{"g":"Traf6","c":8,"v":0},{"g":"Traf6","c":9,"v":0},{"g":"Traf6","c":10,"v":0},{"g":"Traf6","c":11,"v":0},{"g":"Traf6","c":12,"v":1}
],
"b":[{"g":"Icosl","d":"Day 14","v":990,"hi":1015},{"g":"Icosl","d":"Day 28","v":6150,"hi":6950},{"g":"Ccl6","d":"Day 14","v":1800,"hi":2100},{"g":"Ccl6","d":"Day 28","v":4200,"hi":4500},{"g":"Tnfsf13b","d":"Day 14","v":963,"hi":975},{"g":"Tnfsf13b","d":"Day 28","v":1950,"hi":2000},{"g":"H2-Ob","d":"Day 14","v":960,"hi":975},{"g":"H2-Ob","d":"Day 28","v":1880,"hi":2050},{"g":"Cd274","d":"Day 14","v":265,"hi":315},{"g":"Cd274","d":"Day 28","v":975,"hi":1065},{"g":"Cd34","d":"Day 14","v":275,"hi":305},{"g":"Cd34","d":"Day 28","v":855,"hi":885},{"g":"Socs3","d":"Day 14","v":120,"hi":145},{"g":"Socs3","d":"Day 28","v":562,"hi":610},{"g":"Ptprc","d":"Day 14","v":34,"hi":38},{"g":"Ptprc","d":"Day 28","v":260,"hi":280},{"g":"Tnfrs11a","d":"Day 14","v":45,"hi":62},{"g":"Tnfrs11a","d":"Day 28","v":158,"hi":180},{"g":"Itgax","d":"Day 14","v":42,"hi":53},{"g":"Itgax","d":"Day 28","v":130,"hi":144}],
"bbreak":[{"g":"Icosl","d":"Day 28"},{"g":"Ccl6","d":"Day 14"},{"g":"Ccl6","d":"Day 28"},{"g":"Tnfsf13b","d":"Day 28"},{"g":"H2-Ob","d":"Day 28"}],
"bsig":[{"g":"Icosl","s":7770},{"g":"Ccl6","s":5270},{"g":"Tnfsf13b","s":2780},{"g":"H2-Ob","s":2780},{"g":"Cd274","s":1110.6},{"g":"Cd34","s":966},{"g":"Socs3","s":720},{"g":"Ptprc","s":381},{"g":"Tnfrs11a","s":271},{"g":"Itgax","s":254}],
"c":[{"n":1,"v":0.3},{"n":2,"v":0.5},{"n":3,"v":0.55},{"n":4,"v":1.25},{"n":5,"v":1.3},{"n":6,"v":1.33},{"n":7,"v":1.35},{"n":8,"v":1.36},{"n":9,"v":1.37},{"n":10,"v":1.4},{"n":11,"v":1.42},{"n":12,"v":1.44},{"n":13,"v":1.46},{"n":14,"v":1.5},{"n":15,"v":1.51},{"n":16,"v":1.52},{"n":17,"v":1.53},{"n":18,"v":1.54},{"n":19,"v":1.55},{"n":20,"v":1.55},{"n":21,"v":1.57},{"n":22,"v":1.58},{"n":23,"v":1.58},{"n":24,"v":1.59},{"n":25,"v":1.6},{"n":26,"v":1.6},{"n":27,"v":1.6},{"n":28,"v":1.61},{"n":29,"v":1.62},{"n":30,"v":1.64},{"n":31,"v":1.67},{"n":32,"v":1.68},{"n":33,"v":1.69},{"n":34,"v":1.7},{"n":35,"v":1.75},{"n":36,"v":1.77},{"n":37,"v":1.78},{"n":38,"v":1.8},{"n":39,"v":1.81},{"n":40,"v":1.81},{"n":41,"v":1.82},{"n":42,"v":1.83},{"n":43,"v":1.83},{"n":44,"v":1.85},{"n":45,"v":1.9},{"n":46,"v":1.92},{"n":47,"v":1.95},{"n":48,"v":2.05},{"n":49,"v":2.1},{"n":50,"v":2.12},{"n":51,"v":2.15},{"n":52,"v":2.25},{"n":53,"v":2.45},{"n":54,"v":2.48},{"n":55,"v":2.5},{"n":56,"v":2.62},{"n":57,"v":2.64},{"n":58,"v":2.65},{"n":59,"v":2.7},{"n":60,"v":2.73},{"n":61,"v":2.75},{"n":62,"v":2.85},{"n":63,"v":2.95},{"n":64,"v":3.05},{"n":65,"v":3.15},{"n":66,"v":3.9},{"n":67,"v":3.5},{"n":68,"v":3.8},{"n":69,"v":3.8},{"n":70,"v":4.7},{"n":71,"v":6.5},{"n":72,"v":7.9}],
"d":[{"g":"H2-Ob","s":"Development","v":4.8,"hi":4.95},{"g":"H2-Ob","s":"BDS Day 28","v":4.0,"hi":4.16},{"g":"Icosl","s":"Development","v":4.21,"hi":4.3},{"g":"Icosl","s":"BDS Day 28","v":3.25,"hi":3.36},{"g":"Tlr3","s":"Development","v":4.06,"hi":4.24},{"g":"Tlr3","s":"BDS Day 28","v":3.48,"hi":3.65},{"g":"Ptprc","s":"Development","v":3.7,"hi":3.87},{"g":"Ptprc","s":"BDS Day 28","v":3.15,"hi":3.3},{"g":"Gpr183","s":"Development","v":3.59,"hi":3.69},{"g":"Gpr183","s":"BDS Day 28","v":2.69,"hi":2.77},{"g":"Il4ra","s":"Development","v":3.23,"hi":3.4},{"g":"Il4ra","s":"BDS Day 28","v":2.7,"hi":2.79},{"g":"CCR6","s":"Development","v":2.79,"hi":3.15},{"g":"CCR6","s":"BDS Day 28","v":2.12,"hi":2.18},{"g":"IL21r","s":"Development","v":2.66,"hi":2.74},{"g":"IL21r","s":"BDS Day 28","v":2.33,"hi":2.41},{"g":"Stat5a","s":"Development","v":2.36,"hi":2.56},{"g":"Stat5a","s":"BDS Day 28","v":2.02,"hi":2.09},{"g":"Cmklr1","s":"Development","v":2.04,"hi":2.15},{"g":"Cmklr1","s":"BDS Day 28","v":1.66,"hi":1.76},{"g":"IL17ra","s":"Development","v":1.73,"hi":1.89},{"g":"IL17ra","s":"BDS Day 28","v":1.39,"hi":1.5},{"g":"Tgfbr2","s":"Development","v":1.56,"hi":1.68},{"g":"Tgfbr2","s":"BDS Day 28","v":1.19,"hi":1.27},{"g":"Tlr9","s":"Development","v":1.42,"hi":1.6},{"g":"Tlr9","s":"BDS Day 28","v":1.16,"hi":1.24}],
"f":[{"p":1,"g":"Control","v":0.995,"hi":1.03},{"p":2,"g":"BDS","v":0.83,"hi":0.92},{"p":4,"g":"Control","v":1.55,"hi":1.64},{"p":5,"g":"BDS","v":1.35,"hi":1.45}],
"flines":[{"x":1.47,"x2":4.51,"y":1.79,"y2":1.79},{"x":1.47,"x2":1.47,"y":1.23,"y2":1.79},{"x":4.51,"x2":4.51,"y":1.71,"y2":1.79},{"x":1,"x2":1.94,"y":1.23,"y2":1.23},{"x":4.01,"x2":4.97,"y":1.71,"y2":1.71},{"x":0.56,"x2":2.3,"y":-0.65,"y2":-0.65},{"x":3.62,"x2":5.36,"y":-0.65,"y2":-0.65},{"x":6.45,"x2":6.45,"y":0.7,"y2":0.91}],
"ftext":[{"x":1.31,"y":-0.91,"t":"Day 14"},{"x":4.38,"y":-0.91,"t":"Day 28"}],
"tcells":[{"c0":0,"c1":1,"r0":0,"r1":1,"sh":"n"},{"c0":1,"c1":2,"r0":0,"r1":1,"sh":"n"},{"c0":2,"c1":3,"r0":0,"r1":1,"sh":"n"},{"c0":0,"c1":1,"r0":1,"r1":2,"sh":"y"},{"c0":1,"c1":2,"r0":1,"r1":2,"sh":"y"},{"c0":2,"c1":3,"r0":1,"r1":2,"sh":"y"},{"c0":0,"c1":1,"r0":2,"r1":3,"sh":"n"},{"c0":1,"c1":2,"r0":2,"r1":3,"sh":"n"},{"c0":2,"c1":3,"r0":2,"r1":3,"sh":"n"},{"c0":0,"c1":1,"r0":3,"r1":4,"sh":"y"},{"c0":1,"c1":2,"r0":3,"r1":4,"sh":"y"},{"c0":2,"c1":3,"r0":3,"r1":4,"sh":"y"},{"c0":0,"c1":1,"r0":4,"r1":5,"sh":"n"},{"c0":1,"c1":2,"r0":4,"r1":5,"sh":"n"},{"c0":2,"c1":3,"r0":4,"r1":5,"sh":"n"},{"c0":0,"c1":1,"r0":5,"r1":6,"sh":"y"},{"c0":1,"c1":2,"r0":5,"r1":6,"sh":"y"},{"c0":2,"c1":3,"r0":5,"r1":6,"sh":"y"}],
"thead":[{"c":0.03,"r":0.19,"t":"Top 5"},{"c":0.03,"r":0.52,"t":"transcription"},{"c":0.03,"r":0.84,"t":"factors"},{"c":1.05,"r":0.25,"t":"Number of"},{"c":1.05,"r":0.54,"t":"genes"},{"c":1.05,"r":0.84,"t":"affected"},{"c":2.12,"r":0.52,"t":"pValue"}],
"tbody":[{"r":1.5,"tf":"PU.1","n":"40 \u00a0(56 %)","p":"3.57e-","e":"129"},{"r":2.5,"tf":"c-Myc","n":"39 \u00a0(54 %)","p":"8.40e-","e":"126"},{"r":3.5,"tf":"SP1","n":"38 \u00a0(53 %)","p":"1.94e-","e":"122"},{"r":4.5,"tf":"RelA","n":"36 \u00a0(50 %)","p":"2.63e-","e":"117"},{"r":5.5,"tf":"CREB1","n":"35 \u00a0(49 %)","p":"2.12e-","e":"112"}],
"venn":[{"set":"Developement","x":0.5,"y":0.698},{"set":"BDS Day 28","x":0.5,"y":0.287}],
"vtext":[{"x":0.5,"y":0.843,"t":"64"},{"x":0.5,"y":0.709,"t":"Developement"},{"x":0.5,"y":0.248,"t":"BDS Day 28"},{"x":0.5,"y":0.091,"t":"30"}],
"ahead":[{"x":0.38,"x2":6.08},{"x":6.8,"x2":12.74}],
"adays":[{"x":4.5,"y":0.42,"t":"Day 14"},{"x":12,"y":0.444,"t":"Day 28"}]
},
"resolve":{"scale":{"x":"independent","y":"independent","fill":"independent","xOffset":"independent","size":"independent"},"axis":{"x":"independent","y":"independent"},"legend":{"fill":"independent"}},
"layer":[
{"data":{"name":"heat"},"mark":{"type":"rect","strokeWidth":0.6},"encoding":{
"x":{"field":"c","type":"ordinal","scale":{"domain":[1,2,3,4,5,6,7,8,9,10,11,12],"range":[16,115],"paddingInner":0,"paddingOuter":0},"axis":null},
"y":{"field":"g","type":"nominal","scale":{"domain":["Cd79b","Fcgrt","Ebi3","Npcl","Tbkl","Tgfbr2","Rela","Src","Batf","Il1r1","Fadd","Tlr4","Tcf4","Ikbkg","Irf5","Tgfbf1","Blnk","Irf4","Ptprc","Cd74","Il4ra","Ncf4","Ifngr2","Ifi35","Pdgfrb","Cd9","Il1b","Socs3","Trem2","Ctss","Psmb10","Itgax","Cd83","Icosl","Tnfrsf11a","Xbpl","Psmb9","Stat5b","Irak2","Il17ra","Ifnar2","App","Il21r","Tlr9","Cd34","Cmklr1","Tlr3","Ccl6","Cd274","Notch2","Itga5","Irak3","Pdcd1","Ccr6","Tnfsf13b","H2-Ob","Il7r","Gpr183","Ctsc","Psmc2","Runx1","Stat5a","Ptpn2","Il1r12","Bcl6","H2-Dma","Fkbp5","Prdm1","Ccl24","Plau","Pdgfb","Batf3","Il1a","Ikaf1","Traf6"],"range":[81,638],"paddingInner":0,"paddingOuter":0},"axis":{"orient":"right","offset":-935,"title":null,"domain":false,"ticks":false,"labelPadding":9,"labelFontSize":7,"labelFontWeight":"bold","labelFont":"Liberation Sans","labelColor":"#222","labelOverlap":false}},
"fill":{"field":"v","type":"quantitative","scale":{"domain":[-5,0,5],"range":["#2bff12","#000000","#ff0a0a"],"interpolate":"rgb"},"legend":null},
"stroke":{"field":"v","type":"quantitative","scale":{"domain":[-5,0,5],"range":["#2bff12","#000000","#ff0a0a"],"interpolate":"rgb"},"legend":null}}},
{"encoding":{"x":{"type":"quantitative","scale":{"domain":[0.5,12.5],"range":[16,115],"zero":false,"nice":false},"axis":null},"y":{"type":"quantitative","scale":{"domain":[0,1],"range":[81,0],"zero":false,"nice":false},"axis":null}},
"layer":[
{"data":{"name":"ahead"},"mark":{"type":"rule","stroke":"#222","strokeWidth":1.5},"encoding":{"x":{"field":"x","type":"quantitative"},"x2":{"field":"x2"},"y":{"datum":0.086}}},
{"data":{"name":"adays"},"mark":{"type":"text","angle":-25,"fontSize":16,"fontWeight":"bold","font":"Open Sans"},"encoding":{"x":{"field":"x","type":"quantitative"},"y":{"field":"y","type":"quantitative"},"text":{"field":"t"}}},
{"data":{"values":[{"t":"A"}]},"mark":{"type":"text","fontSize":21,"fontWeight":"bold","font":"Liberation Sans"},"encoding":{"x":{"datum":-0.23},"y":{"datum":0.84},"text":{"field":"t"}}}
]},
{"encoding":{"x":{"field":"g","type":"nominal","sort":null,"scale":{"domain":["Icosl","Ccl6","Tnfsf13b","H2-Ob","Cd274","Cd34","Socs3","Ptprc","Tnfrs11a","Itgax"],"range":[239.5,843.5],"paddingInner":0.208,"paddingOuter":0.1375},"axis":{"orient":"bottom","offset":-717,"title":null,"domainWidth":2,"domainColor":"#111","ticks":false,"labelAngle":0,"labelPadding":11,"labelFontSize":13,"labelFontWeight":"bold","labelColor":"#222","labelOverlap":false}},
"y":{"type":"quantitative","scale":{"domain":[0,1000,1110,1111,2000,8000],"range":[318,200,187,182,168,90],"zero":false,"nice":false},"axis":{"orient":"left","offset":-240,"values":[0,200,400,600,800,1000,2000,4000,6000,8000],"format":"d","title":"mRNA transcripts","titleFontSize":14,"titleFontWeight":"bold","titleColor":"#222","titleX":-42,"titleY":200,"titleAngle":-90,"domainWidth":2,"domainColor":"#111","tickWidth":2,"tickColor":"#111","tickSize":5,"labelFontSize":11,"labelColor":"#333","labelPadding":3,"labelOverlap":false}},
"xOffset":{"field":"d","type":"nominal","scale":{"domain":["Day 14","Day 28"],"paddingInner":0.173,"paddingOuter":0}}},
"layer":[
{"data":{"name":"b"},"mark":{"type":"bar","stroke":"#555","strokeWidth":1.5},"encoding":{"y":{"field":"v","type":"quantitative"},"fill":{"field":"d","type":"nominal","scale":{"domain":["Day 14","Day 28"],"range":["#ffffff","#000000"]},"legend":{"orient":"none","legendX":555,"legendY":107.5,"title":null,"symbolType":"M-1.75,-1H1.75V1H-1.75Z","symbolSize":144,"symbolStrokeColor":"#111","symbolStrokeWidth":1.5,"labelFontSize":16,"labelFont":"Open Sans","labelColor":"#222","labelOffset":10,"rowPadding":1}}}},
{"data":{"name":"b"},"mark":{"type":"rule","stroke":"#111","strokeWidth":1.5},"encoding":{"y":{"field":"v","type":"quantitative"},"y2":{"field":"hi"}}},
{"data":{"name":"b"},"mark":{"type":"tick","orient":"horizontal","size":12,"thickness":1.5,"color":"#111"},"encoding":{"y":{"field":"hi","type":"quantitative"}}},
{"data":{"name":"bbreak"},"mark":{"type":"bar","fill":"#fff","stroke":"#fff","strokeWidth":1.5},"encoding":{"y":{"datum":1110,"type":"quantitative"},"y2":{"datum":1111}}},
{"data":{"name":"bbreak"},"mark":{"type":"tick","orient":"horizontal","size":23,"thickness":1.2,"color":"#333"},"encoding":{"y":{"datum":1110.5,"type":"quantitative"}}},
{"data":{"values":[{"g":"Icosl"}]},"mark":{"type":"tick","orient":"horizontal","size":6,"thickness":5,"color":"#fff"},"encoding":{"xOffset":{"value":-6},"y":{"datum":1110.5,"type":"quantitative"}}},
{"data":{"values":[{"g":"Icosl"}]},"mark":{"type":"tick","orient":"horizontal","size":8,"thickness":1.3,"color":"#111"},"encoding":{"xOffset":{"value":-2},"y":{"datum":1110,"type":"quantitative"}}},
{"data":{"values":[{"g":"Icosl"}]},"mark":{"type":"tick","orient":"horizontal","size":8,"thickness":1.3,"color":"#111"},"encoding":{"xOffset":{"value":-2},"y":{"datum":1111,"type":"quantitative"}}},
{"data":{"name":"bsig"},"mark":{"type":"tick","orient":"horizontal","size":27,"thickness":1.5,"color":"#222"},"encoding":{"xOffset":{"value":23.75},"y":{"field":"s","type":"quantitative"}}},
{"data":{"name":"bsig"},"mark":{"type":"text","fontSize":16,"font":"Liberation Sans","dy":-4,"fill":"#444","text":"***"},"encoding":{"xOffset":{"value":23.75},"y":{"field":"s","type":"quantitative"}}},
{"data":{"values":[{"t":"top 10 genes Upregulated by age"}]},"mark":{"type":"text","fontSize":13.8,"font":"Open Sans","fill":"#222","dx":12.5,"dy":3},"encoding":{"x":{"datum":"Cd34"},"xOffset":{"value":23.75},"y":{"datum":8000,"type":"quantitative"},"text":{"field":"t"}}},
{"data":{"values":[{"t":"B"}]},"mark":{"type":"text","fontSize":21,"fontWeight":"bold","font":"Liberation Sans","dx":-81,"dy":-78},"encoding":{"x":{"datum":"Icosl"},"xOffset":{"value":23.75},"y":{"datum":8000,"type":"quantitative"},"text":{"field":"t"}}}
]},
{"encoding":{"x":{"field":"n","type":"ordinal","scale":{"range":[859.7,1047],"paddingInner":0.33,"paddingOuter":0.16},"axis":{"orient":"bottom","offset":-850,"title":"Genes \u00a0p< 0.05","titleFontSize":11.5,"titleFontWeight":"bold","titleFont":"Liberation Sans","titleColor":"#111","titleX":950,"titleY":28,"domainWidth":1.5,"domainColor":"#111","tickSize":4,"tickWidth":1,"tickColor":"#111","labelAngle":0,"labelFontSize":13,"labelFont":"Open Sans","labelColor":"#222","labelOverlap":false,"labelExpr":"(+datum.value-1)%10==0?datum.label:''"}},
"y":{"type":"quantitative","scale":{"domain":[0,10],"range":[185,44],"zero":false,"nice":false},"axis":{"orient":"left","offset":-859,"values":[0,2,4,6,8,10],"title":["Fold change mRNA transcripts","Control P28/ Control P14"],"titleFontSize":12.5,"titleFontWeight":"bold","titleFont":"Liberation Sans","titleColor":"#111","titleX":-40,"titleY":122,"titleAngle":-90,"titleLineHeight":16,"domainWidth":1.5,"domainColor":"#111","tickSize":4,"tickColor":"#111","labelFontSize":13,"labelColor":"#222"}}},
"layer":[
{"data":{"name":"c"},"mark":{"type":"bar","fill":"#3a3a3a"},"encoding":{"y":{"field":"v","type":"quantitative"}}},
{"data":{"values":[{"t":"ref"}]},"mark":{"type":"rule","stroke":"#f5103c","strokeWidth":2.5},"encoding":{"x":{"datum":1,"type":"ordinal"},"x2":{"datum":72},"y":{"datum":1.05,"type":"quantitative"}}},
{"data":{"values":[{"t":"C"}]},"mark":{"type":"text","fontSize":21,"fontWeight":"bold","font":"Liberation Sans","dx":-19,"dy":-32},"encoding":{"x":{"datum":1,"type":"ordinal"},"y":{"datum":10,"type":"quantitative"},"text":{"field":"t"}}}
]},
{"encoding":{"x":{"type":"quantitative","scale":{"domain":[0,1],"range":[200,340],"zero":false,"nice":false},"axis":null},"y":{"type":"quantitative","scale":{"domain":[0,1],"range":[623,393],"zero":false,"nice":false},"axis":null}},
"layer":[
{"data":{"name":"venn"},"transform":[{"filter":"datum.set=='Developement'"}],"mark":{"type":"point","filled":true,"fill":"#fcdcb9","stroke":"#111","strokeWidth":1.5,"opacity":1,"size":20164},"encoding":{"x":{"field":"x","type":"quantitative"},"y":{"field":"y","type":"quantitative"}}},
{"data":{"name":"venn"},"transform":[{"filter":"datum.set!='Developement'"}],"mark":{"type":"point","filled":true,"fill":"#5a66fb","stroke":"#111","strokeWidth":1.5,"opacity":1,"size":16900,"shape":"circle"},"encoding":{"x":{"field":"x","type":"quantitative"},"y":{"field":"y","type":"quantitative"}}},
{"data":{"name":"venn"},"transform":[{"filter":"datum.set=='Developement'"}],"mark":{"type":"point","filled":false,"stroke":"#333","strokeWidth":1.2,"opacity":0.4,"size":20164,"shape":"circle"},"encoding":{"x":{"field":"x","type":"quantitative"},"y":{"field":"y","type":"quantitative"}}},
{"data":{"name":"vtext"},"mark":{"type":"text","fontSize":18.5,"font":"Open Sans","fill":"#111"},"encoding":{"x":{"field":"x","type":"quantitative"},"y":{"field":"y","type":"quantitative"},"text":{"field":"t"}}},
{"data":{"values":[{"t":"13"}]},"mark":{"type":"text","fontSize":26,"fontWeight":"bold","font":"Open Sans","fill":"#111"},"encoding":{"x":{"datum":0.5},"y":{"datum":0.487},"text":{"field":"t"}}},
{"data":{"values":[{"x":0.87,"x2":1.18}]},"mark":{"type":"rule","stroke":"#111","strokeWidth":1.3},"encoding":{"x":{"field":"x","type":"quantitative"},"x2":{"field":"x2"},"y":{"datum":0.491}}},
{"data":{"values":[{"x":1.23}]},"mark":{"type":"point","shape":"triangle-right","filled":true,"fill":"#111","opacity":1,"size":200},"encoding":{"x":{"field":"x","type":"quantitative"},"y":{"datum":0.491}}},
{"data":{"values":[{"t":"D"}]},"mark":{"type":"text","fontSize":21,"fontWeight":"bold","font":"Liberation Sans"},"encoding":{"x":{"datum":-0.03},"y":{"datum":1.061},"text":{"field":"t"}}}
]},
{"encoding":{"x":{"field":"g","type":"nominal","sort":null,"scale":{"domain":["H2-Ob","Icosl","Tlr3","Ptprc","Gpr183","Il4ra","CCR6","IL21r","Stat5a","Cmklr1","IL17ra","Tgfbr2","Tlr9"],"range":[448,1047],"paddingInner":0.126,"paddingOuter":0.178},"axis":{"orient":"bottom","offset":-412,"title":null,"domainWidth":1.5,"domainColor":"#111","ticks":false,"labelAngle":45,"labelAlign":"left","labelBaseline":"middle","labelPadding":9,"labelOffset":-10,"labelFontSize":11.5,"labelFontWeight":"bold","labelColor":"#222","labelOverlap":false}},
"y":{"type":"quantitative","scale":{"domain":[0,6],"range":[623,391],"zero":false,"nice":false},"axis":{"orient":"left","offset":-450,"values":[0,1,2,3,4,5,6],"title":["mRNA transcripts","(Fold change)"],"titleFontSize":14,"titleFontWeight":"bold","titleColor":"#222","titleX":-36,"titleY":507,"titleAngle":-90,"titleLineHeight":18,"domainWidth":2,"domainColor":"#222","tickSize":3,"tickColor":"#222","labelFontSize":10,"labelColor":"#555","labelFont":"Roboto","labelPadding":2}},
"xOffset":{"field":"s","type":"nominal","scale":{"domain":["Development","BDS Day 28"],"paddingInner":0.12,"paddingOuter":0}}},
"layer":[
{"data":{"name":"d"},"mark":{"type":"bar","stroke":"#333","strokeWidth":1.5},"encoding":{"y":{"field":"v","type":"quantitative"},"fill":{"field":"s","type":"nominal","scale":{"domain":["Development","BDS Day 28"],"range":["#fbdcb4","#2f3ffc"]},"legend":{"orient":"none","legendX":698.75,"legendY":402,"title":null,"symbolType":"M-1.91,-1H1.91V1H-1.91Z","symbolSize":132,"symbolStrokeColor":"#111","symbolStrokeWidth":1.5,"labelFontSize":17.5,"labelFont":"Open Sans","labelColor":"#222","labelOffset":12.75,"rowPadding":2}}}},
{"data":{"name":"d"},"mark":{"type":"rule","stroke":"#111","strokeWidth":1.5},"encoding":{"y":{"field":"v","type":"quantitative"},"y2":{"field":"hi"}}},
{"data":{"name":"d"},"mark":{"type":"tick","orient":"horizontal","size":10,"thickness":1.5,"color":"#111"},"encoding":{"y":{"field":"hi","type":"quantitative"}}}
]},
{"encoding":{"x":{"type":"quantitative","scale":{"domain":[0,1,2,3],"range":[222,314,394,462],"zero":false,"nice":false},"axis":null},"y":{"type":"quantitative","scale":{"domain":[0,1,2,3,4,5,6],"range":[754,817,840.7,865,889,912,936],"zero":false,"nice":false},"axis":null}},
"layer":[
{"data":{"name":"tcells"},"mark":{"type":"rect","stroke":"#222","strokeWidth":1.5},"encoding":{"x":{"field":"c0","type":"quantitative"},"x2":{"field":"c1"},"y":{"field":"r0","type":"quantitative"},"y2":{"field":"r1"},"fill":{"field":"sh","type":"nominal","scale":{"domain":["y","n"],"range":["#b1c5c1","#ffffff"]},"legend":null}}},
{"data":{"name":"thead"},"mark":{"type":"text","align":"left","fontSize":15,"font":"Liberation Sans","fill":"#222"},"encoding":{"x":{"field":"c","type":"quantitative"},"y":{"field":"r","type":"quantitative"},"text":{"field":"t"}}},
{"data":{"name":"tbody"},"mark":{"type":"text","align":"left","fontSize":13.5,"font":"Open Sans","fill":"#222","dx":2.5},"encoding":{"x":{"datum":0},"y":{"field":"r","type":"quantitative"},"text":{"field":"tf"}}},
{"data":{"name":"tbody"},"mark":{"type":"text","align":"right","fontSize":13.5,"font":"Open Sans","fill":"#222","dx":-7},"encoding":{"x":{"datum":2},"y":{"field":"r","type":"quantitative"},"text":{"field":"n"}}},
{"data":{"name":"tbody"},"mark":{"type":"text","align":"left","fontSize":13.5,"font":"Open Sans","fill":"#222","dx":8},"encoding":{"x":{"datum":2},"y":{"field":"r","type":"quantitative"},"text":{"field":"p"}}},
{"data":{"name":"tbody"},"mark":{"type":"text","align":"left","fontSize":9.5,"font":"Open Sans","fill":"#222","dx":47.7,"dy":-5},"encoding":{"x":{"datum":2},"y":{"field":"r","type":"quantitative"},"text":{"field":"e"}}},
{"data":{"values":[{"t":"E"}]},"mark":{"type":"text","fontSize":21,"fontWeight":"bold","font":"Liberation Sans"},"encoding":{"x":{"datum":-0.2},"y":{"datum":-0.73},"text":{"field":"t"}}}
]},
{"encoding":{"x":{"type":"quantitative","scale":{"domain":[0.195,5.78],"range":[681,896],"zero":false,"nice":false,"padding":0},"axis":{"orient":"bottom","offset":-104,"values":[1,2,4,5],"title":null,"domainWidth":1.5,"domainColor":"#111","ticks":false,"labelAngle":-45,"labelAlign":"right","labelBaseline":"top","labelPadding":6,"labelFontSize":16.5,"labelColor":"#222","labelOverlap":false,"labelExpr":"datum.value==1||datum.value==4?'Control':'BDS'"}},
"y":{"type":"quantitative","scale":{"domain":[0,1.8],"range":[931,751],"zero":false,"nice":false},"axis":{"orient":"left","offset":-683,"values":[0,0.4,0.8,1.2,1.6],"labelExpr":"datum.value==0?'0':format(datum.value,'.1f')","title":["Pu.1 mRNA","(Fold change)"],"titleFontSize":20,"titleFontWeight":"bold","titleColor":"#111","titleX":-62,"titleY":841,"titleAngle":-90,"titleLineHeight":26,"domainWidth":1.5,"domainColor":"#111","tickSize":4,"tickColor":"#111","labelFontSize":14,"labelColor":"#222"}}},
"layer":[
{"data":{"name":"f"},"mark":{"type":"bar","orient":"vertical","width":30,"stroke":"#111","strokeWidth":1.5},"encoding":{"x":{"field":"p","type":"quantitative"},"y":{"field":"v","type":"quantitative"},"fill":{"field":"g","type":"nominal","scale":{"domain":["Control","BDS"],"range":["#78827b","#000000"]},"legend":{"orient":"none","legendX":934,"legendY":835,"title":null,"symbolType":"M-1.92,-1H1.92V1H-1.92Z","symbolSize":144,"symbolStrokeColor":"#222","symbolStrokeWidth":1.5,"labelFontSize":17,"labelFont":"Open Sans","labelColor":"#222","labelOffset":5,"rowPadding":2}}}},
{"data":{"name":"f"},"mark":{"type":"rule","stroke":"#111","strokeWidth":2},"encoding":{"x":{"field":"p","type":"quantitative"},"y":{"field":"v","type":"quantitative"},"y2":{"field":"hi"}}},
{"data":{"name":"f"},"mark":{"type":"tick","orient":"horizontal","size":17,"thickness":2,"color":"#111"},"encoding":{"x":{"field":"p","type":"quantitative"},"y":{"field":"hi","type":"quantitative"}}},
{"data":{"name":"flines"},"mark":{"type":"rule","stroke":"#111","strokeWidth":1.5},"encoding":{"x":{"field":"x","type":"quantitative"},"x2":{"field":"x2"},"y":{"field":"y","type":"quantitative"},"y2":{"field":"y2"}}},
{"data":{"name":"ftext"},"mark":{"type":"text","fontSize":18,"font":"Open Sans","fill":"#222"},"encoding":{"x":{"field":"x","type":"quantitative"},"y":{"field":"y","type":"quantitative"},"text":{"field":"t"}}},
{"data":{"values":[{"t":"***"}]},"mark":{"type":"text","fontSize":24,"font":"Liberation Sans","fontWeight":"bold","fill":"#222"},"encoding":{"x":{"datum":3.03},"y":{"datum":1.86},"text":{"field":"t"}}},
{"data":{"values":[{"t":"*"}]},"mark":{"type":"text","fontSize":15,"font":"Liberation Sans","fill":"#222"},"encoding":{"x":{"datum":6.22},"y":{"datum":0.77},"text":{"field":"t"}}},
{"data":{"values":[{"t":"F"}]},"mark":{"type":"text","fontSize":21,"fontWeight":"bold","font":"Liberation Sans"},"encoding":{"x":{"datum":-2.25},"y":{"datum":2.24},"text":{"field":"t"}}}
]}
]}
